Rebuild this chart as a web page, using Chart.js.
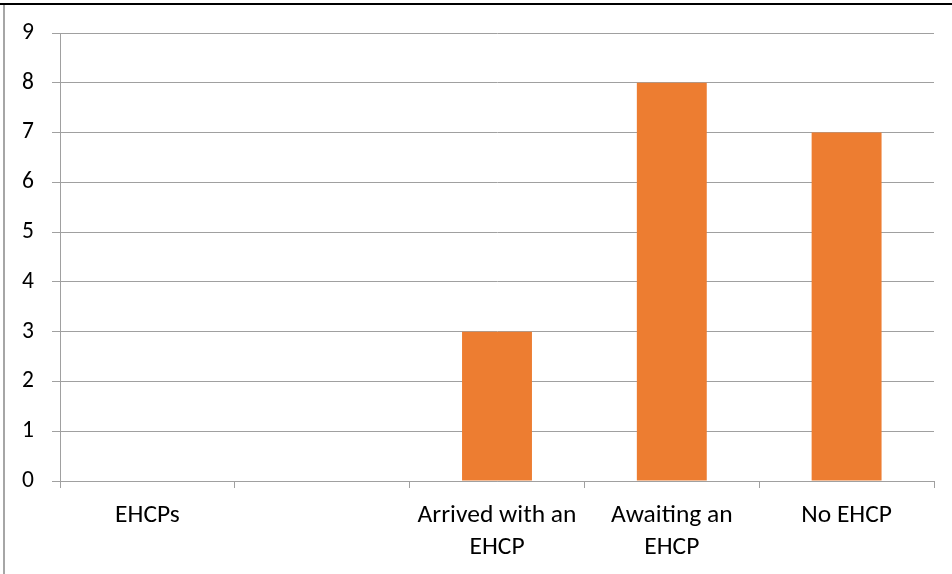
<!DOCTYPE html>
<html>
<head>
<meta charset="utf-8">
<script src="https://cdn.jsdelivr.net/npm/chart.js@4/dist/chart.umd.min.js"></script>
<style>
  html, body { margin: 0; padding: 0; background: #fff; }
  #wrap { position: relative; width: 952px; height: 574px; overflow: hidden; }
  #topline { position: absolute; left: 0; top: 3px; width: 952px; height: 2px; background: #000; }
  #leftline { position: absolute; left: 3px; top: 5px; width: 2px; height: 569px; background: #a6a6a6; }
  canvas { position: absolute; left: 0; top: 0; }
</style>
</head>
<body>
<div id="wrap">
  <canvas id="c" width="952" height="574"></canvas>
  <div id="topline"></div>
  <div id="leftline"></div>
</div>
<script>
const categories = ["EHCPs", "", ["Arrived with an", "EHCP"], ["Awaiting an", "EHCP"], "No EHCP"];
const values = [0, 0, 3, 8, 7];
const yTicks = [0, 1, 2, 3, 4, 5, 6, 7, 8, 9];

const FONT = "Carlito, Calibri, Lato, 'Liberation Sans', sans-serif";
const GRID = '#a0a0a0';

new Chart(document.getElementById('c'), {
  type: 'bar',
  data: {
    labels: categories,
    datasets: [{
      data: values,
      backgroundColor: '#ED7D31',
      borderWidth: 0,
      categoryPercentage: 0.8,
      barPercentage: 0.5
    }]
  },
  options: {
    responsive: false,
    animation: false,
    devicePixelRatio: 1,
    layout: { padding: { left: 0, right: 18, top: 33, bottom: 0 } },
    plugins: { legend: { display: false }, tooltip: { enabled: false } },
    scales: {
      x: {
        grid: { display: true, drawOnChartArea: false, drawTicks: true, tickLength: 7, color: GRID, offset: true },
        border: { display: true, color: GRID, width: 1 },
        ticks: { color: '#000', font: { family: FONT, size: 25.5, lineHeight: 1.245 }, padding: 12, maxRotation: 0, autoSkip: false },
        afterFit: (s) => { s.height = 93; }
      },
      y: {
        min: 0, max: 9,
        afterBuildTicks: (s) => { s.ticks = yTicks.map(v => ({ value: v })); },
        grid: { color: GRID, tickLength: 8, lineWidth: 1 },
        border: { display: true, color: GRID, width: 1 },
        ticks: { color: '#000', font: { family: FONT, size: 23.5 }, padding: 18 },
        afterFit: (s) => { s.width = 60; }
      }
    }
  }
});
</script>
</body>
</html>
